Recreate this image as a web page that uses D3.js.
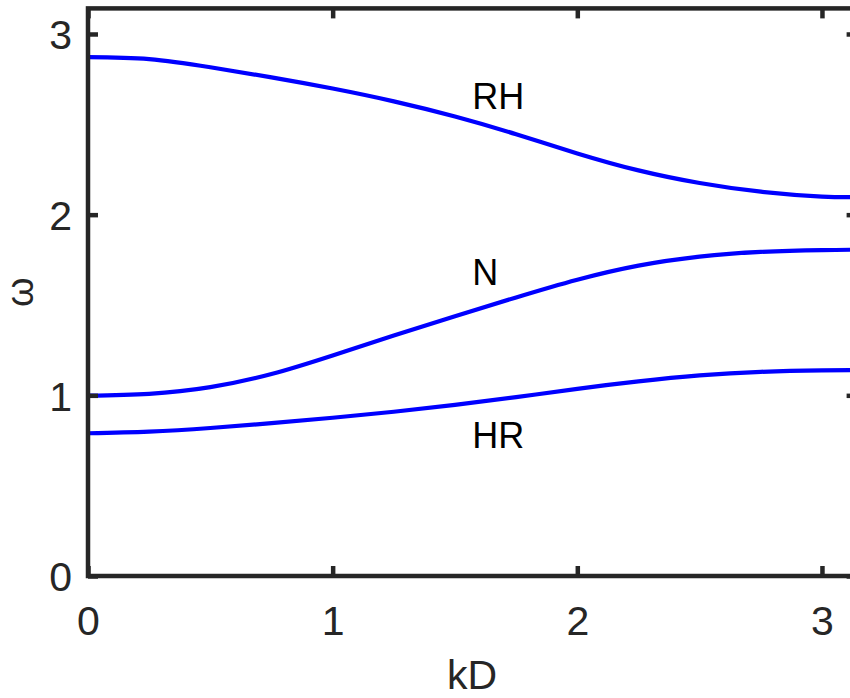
<!DOCTYPE html>
<html>
<head>
<meta charset="utf-8">
<script src="https://cdn.jsdelivr.net/npm/d3@7"></script>
<style>
  html, body { margin: 0; padding: 0; background: #fff; }
  svg { display: block; }
  text { font-family: "Liberation Sans", Arial, Helvetica, sans-serif; }
</style>
</head>
<body>
<svg id="chart" width="850" height="698"></svg>
<script>
// Wavenumber samples kD over the first Brillouin zone [0, π]
const kD = [0, 0.25, 0.5, 0.75, 1.0, 1.25, 1.5, 1.75, 2.0, 2.25, 2.5, 2.75, 3.0, Math.PI];

// Dispersion branches ω(kD)
const omegaRH = [2.872, 2.861, 2.816, 2.760, 2.698, 2.627, 2.543, 2.445, 2.339, 2.245, 2.175, 2.127, 2.100, 2.097];
const omegaN  = [0.998, 1.008, 1.045, 1.118, 1.221, 1.331, 1.438, 1.542, 1.640, 1.718, 1.768, 1.794, 1.804, 1.806];
const omegaHR = [0.790, 0.799, 0.819, 0.846, 0.876, 0.909, 0.947, 0.990, 1.036, 1.077, 1.110, 1.130, 1.138, 1.139];

const branchNames = ["RH", "N", "HR"];
const branchLabelK = [Math.PI / 2, Math.PI / 2, Math.PI / 2];
const branchLabelOmega = [2.655, 1.68, 0.78];

const xTicks = [0, 1, 2, 3];
const yTicks = [0, 1, 2, 3];

const svg = d3.select("#chart");
const left = 88, bottom = 576;
const x = d3.scaleLinear().domain([0, Math.PI]).range([left, left + 768.6]);
const y = d3.scaleLinear().domain([0, Math.PI]).range([bottom, bottom - 567.6]);

const axisColor = "#262626";
const axisWidth = 4.5;
const tickFont = 41;

// branch curves
const branches = [omegaRH, omegaN, omegaHR];
const line = d3.line()
  .x((d, i) => x(kD[i]))
  .y(d => y(d))
  .curve(d3.curveNatural);

svg.append("g")
  .selectAll("path")
  .data(branches)
  .join("path")
  .attr("d", line)
  .attr("fill", "none")
  .attr("stroke", "#0000ff")
  .attr("stroke-width", 4.2)
  .attr("stroke-linejoin", "round");

// axes with inward ticks
function styleAxis(g) {
  g.select(".domain").remove();
  g.selectAll(".tick line").attr("stroke", axisColor).attr("stroke-width", axisWidth);
  g.selectAll(".tick text")
    .attr("fill", axisColor)
    .attr("font-size", tickFont)
    .attr("font-family", null);
}

svg.append("g")
  .attr("transform", `translate(0,${bottom})`)
  .call(d3.axisBottom(x).tickValues(xTicks).tickFormat(d3.format("d")).tickSize(-10).tickPadding(30))
  .call(styleAxis);

svg.append("g")
  .attr("transform", `translate(${left},0)`)
  .call(d3.axisLeft(y).tickValues(yTicks).tickFormat(d3.format("d")).tickSize(-10).tickPadding(16))
  .call(styleAxis)
  .call(g => g.selectAll(".tick text").attr("dy", "0.36em"));

svg.append("g")
  .attr("transform", `translate(0,${y(Math.PI)})`)
  .call(d3.axisTop(x).tickValues(xTicks).tickFormat("").tickSize(-10))
  .call(styleAxis);

svg.append("g")
  .attr("transform", `translate(${x(Math.PI)},0)`)
  .call(d3.axisRight(y).tickValues(yTicks).tickFormat("").tickSize(-10))
  .call(styleAxis);

// frame
svg.append("rect")
  .attr("x", x(0))
  .attr("y", y(Math.PI))
  .attr("width", x(Math.PI) - x(0))
  .attr("height", y(0) - y(Math.PI))
  .attr("fill", "none")
  .attr("stroke", axisColor)
  .attr("stroke-width", axisWidth)
  .attr("stroke-linejoin", "miter");

// branch labels
svg.append("g")
  .selectAll("text")
  .data(branchNames)
  .join("text")
  .attr("x", (d, i) => x(branchLabelK[i]))
  .attr("y", (d, i) => y(branchLabelOmega[i]))
  .attr("dy", "0.35em")
  .attr("font-size", 36)
  .attr("fill", "#000")
  .text(d => d);

// axis titles
svg.append("text")
  .attr("x", 472)
  .attr("y", 689)
  .attr("text-anchor", "middle")
  .attr("font-size", tickFont)
  .attr("fill", axisColor)
  .text("kD");

svg.append("text")
  .attr("transform", `translate(33,${(y(0) + y(Math.PI)) / 2}) rotate(-90)`)
  .attr("text-anchor", "middle")
  .attr("font-size", 38)
  .attr("fill", axisColor)
  .text("ω");
</script>
</body>
</html>
